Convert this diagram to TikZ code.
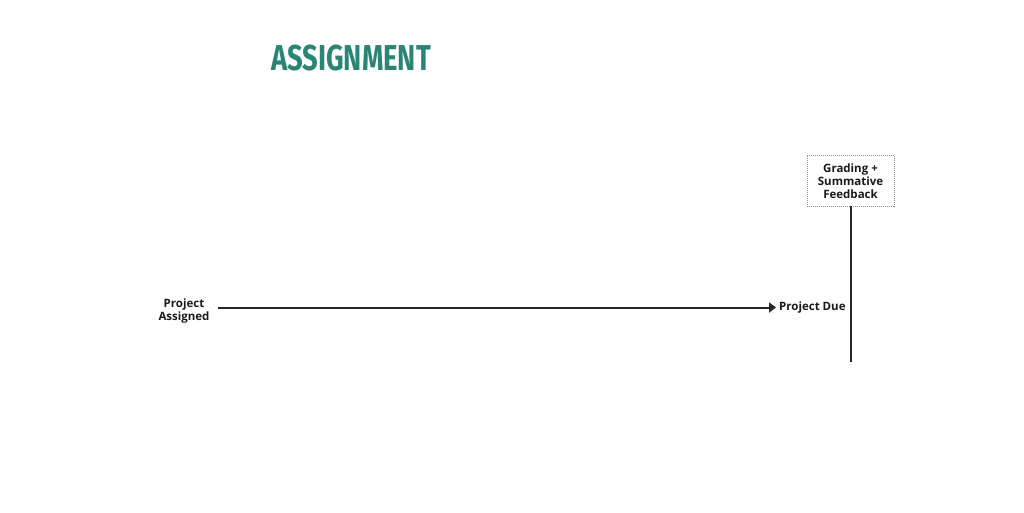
\documentclass[tikz,border=0pt]{standalone}
\usepackage{fontspec}
\setmainfont{Open Sans}
\newfontfamily\titlefont{Fira Sans}
\usetikzlibrary{arrows.meta}
\definecolor{titleteal}{HTML}{2A8577}
\tikzset{
  lbl/.style={font=\fontsize{11.5}{13}\selectfont\bfseries, align=center, inner sep=0pt, text=black!90},
  flow/.style={line width=2pt, draw=black!85},
  boxed/.style={lbl, draw=black!45, dash pattern=on 1pt off 1pt, line width=0.7pt, minimum width=87pt, minimum height=51pt},
}
\begin{document}
\begin{tikzpicture}[x=1pt,y=-1pt]
\useasboundingbox (0,0) rectangle (1024,512);
\node[font=\titlefont\fontsize{36}{36}\selectfont\bfseries, text=titleteal, inner sep=0pt] (title) at (351,58.5) {\scalebox{0.76}[1]{ASSIGNMENT}};
\node[lbl] (assigned) at (184,311.5) {Project\\Assigned};
\node[lbl, anchor=west] (due) at (779,307.5) {Project Due};
\node[boxed] (grading) at (850.5,180.5) {};
\node[lbl] (gradingtext) at (850.5,181.5) {Grading +\\Summative\\Feedback};
\coordinate (start) at (218,307.5);
\coordinate (arrowend) at (776,307.5);
\coordinate (vend) at (850.5,362);
\draw[flow, -{Triangle[length=7pt,width=10pt]}] (start) -- (arrowend);
\draw[flow] (grading.south) -- (vend);
\end{tikzpicture}
\end{document}
